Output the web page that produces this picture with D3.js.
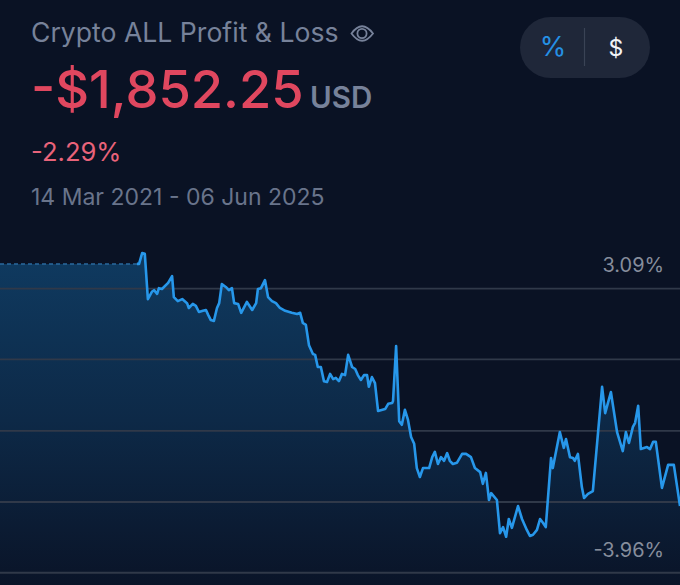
<!DOCTYPE html>
<html><head><meta charset="utf-8">
<script src="https://cdn.jsdelivr.net/npm/d3@7/dist/d3.min.js"></script>
<style>html,body{margin:0;padding:0;background:#0a1224;overflow:hidden}svg{display:block}text{font-family:Inter,sans-serif}</style>
</head><body>
<svg id="c" width="680" height="585"></svg>
<script>
const titleText = "Crypto ALL Profit & Loss";
const amountText = "-$1,852.25";
const unitText = "USD";
const pctText = "-2.29%";
const rangeText = "14 Mar 2021 - 06 Jun 2025";
const toggleLabels = ["%", "$"];
const maxLabel = "3.09%";
const minLabel = "-3.96%";
const totalDays = 1545;
const maxValue = 3.09, minValue = -3.96;
const gridValues = [2.21, 0.46, -1.31, -3.07, -4.82];
const flatDays = [0, 311];
const flatValue = 2.82;
const days = [311,316,323,329,336,345,350,357,361,368,382,391,395,404,414,425,429,438,445,452,461,468,473,479,486,493,498,504,513,520,527,532,541,548,561,573,582,586,593,602,609,618,627,636,648,663,675,682,688,695,702,711,716,722,729,736,743,750,757,763,770,777,784,791,800,807,813,820,827,834,838,845,852,859,875,882,891,893,900,907,913,920,927,934,941,947,954,961,975,982,988,995,1002,1009,1016,1022,1029,1038,1050,1059,1070,1079,1091,1097,1104,1111,1116,1129,1136,1143,1150,1156,1163,1177,1186,1197,1204,1211,1220,1227,1234,1240,1252,1256,1272,1281,1286,1295,1302,1306,1313,1322,1327,1336,1347,1368,1375,1388,1402,1415,1422,1429,1438,1443,1450,1456,1470,1477,1484,1490,1504,1518,1531,1545];
const values = [2.82,2.82,3.09,3.07,1.95,2.13,2.17,2.08,2.22,2.20,2.35,2.52,2.00,1.90,1.95,1.85,1.73,1.83,1.78,1.63,1.66,1.68,1.56,1.43,1.41,1.73,1.85,2.32,2.25,2.17,2.22,1.85,1.83,1.61,1.88,1.68,1.85,2.20,2.22,2.42,2.00,1.90,1.85,1.73,1.66,1.61,1.58,1.61,1.36,1.31,0.81,0.59,0.57,0.27,0.27,-0.08,-0.10,0.10,-0.03,0.00,-0.08,0.10,0.07,0.57,0.27,0.22,0.07,-0.05,0.07,0.07,-0.22,0.02,-0.13,-0.82,-0.77,-0.64,-0.62,-0.57,0.79,-1.07,-1.16,-0.79,-1.04,-1.46,-1.63,-2.23,-2.45,-2.23,-2.23,-1.96,-1.83,-2.13,-1.96,-2.05,-1.86,-2.05,-2.13,-2.10,-1.88,-1.88,-1.96,-2.23,-2.33,-2.62,-2.35,-3.02,-2.85,-3.02,-3.84,-3.69,-3.93,-3.49,-3.71,-3.17,-3.49,-3.76,-3.91,-3.88,-3.76,-3.49,-3.59,-3.69,-1.98,-2.23,-1.34,-1.73,-1.51,-1.96,-1.98,-2.05,-1.88,-2.70,-2.97,-2.87,-2.80,-0.22,-0.87,-0.35,-1.34,-1.81,-1.34,-1.61,-1.21,-1.11,-0.69,-1.76,-1.71,-1.76,-1.58,-1.58,-2.72,-2.15,-2.15,-3.17];

const W = 680, H = 585;
const svg = d3.select("#c");
const x = d3.scaleLinear().domain([0, totalDays]).range([0, W]);
const y = d3.scaleLinear().domain([minValue, maxValue]).range([538, 253]);
const pts = days.map((d, i) => ({d, v: values[i]}));
const allPts = [{d: flatDays[0], v: flatValue}].concat(pts);

svg.append("rect").attr("width", W).attr("height", H).attr("fill", "#0a1224");
const defs = svg.append("defs");
const g = defs.append("linearGradient").attr("id", "fade").attr("gradientUnits", "userSpaceOnUse")
  .attr("x1", 0).attr("x2", 0).attr("y1", 255).attr("y2", H);
g.append("stop").attr("offset", 0).attr("stop-color", "#0f3a60");
g.append("stop").attr("offset", 0.5).attr("stop-color", "#0d2947");
g.append("stop").attr("offset", 1).attr("stop-color", "#0a1428");

const area = d3.area().x(p => x(p.d)).y0(H).y1(p => y(p.v));
svg.append("path").datum(allPts).attr("d", area).attr("fill", "url(#fade)");

svg.selectAll("line.grid").data(gridValues).join("line").attr("class", "grid")
  .attr("x1", 0).attr("x2", W).attr("y1", d => y(d)).attr("y2", d => y(d))
  .attr("stroke", "#303949").attr("stroke-width", 1.8);

const line = d3.line().x(p => x(p.d)).y(p => y(p.v));
svg.append("path").datum(flatDays.map(d => ({d, v: flatValue}))).attr("d", line)
  .attr("fill", "none").attr("stroke", "#2a6a9e").attr("stroke-width", 1.5).attr("stroke-dasharray", "4 3");
svg.append("path").datum(pts).attr("d", line).attr("fill", "none")
  .attr("stroke", "#2797ea").attr("stroke-width", 2.6).attr("stroke-linejoin", "round");

const text = (s, px, py, size, fill, weight, anchor) => svg.append("text").text(s)
  .attr("x", px).attr("y", py).attr("font-size", size).attr("fill", fill)
  .attr("font-weight", weight || 400).attr("text-anchor", anchor || "start");

text(titleText, 31, 42, 26.6, "#77829a");
const eye = svg.append("g").attr("fill", "none").attr("stroke", "#77829a").attr("stroke-width", 1.8);
eye.append("path").attr("d", "M351.5 33.5 Q362 19 373 33.5 Q362 48 351.5 33.5 Z");
eye.append("circle").attr("cx", 362).attr("cy", 33.5).attr("r", 4.6);
text(amountText, 31, 108, 52.4, "#e0475f", 500);
text(unitText, 310, 108, 29.5, "#77829a", 600);
text(pctText, 31, 161, 25.6, "#e9637a");
text(rangeText, 31, 205, 23, "#69748b");

svg.append("rect").attr("x", 520).attr("y", 17).attr("width", 130).attr("height", 61).attr("rx", 30.5).attr("fill", "#1f2739");
svg.append("line").attr("x1", 584.5).attr("x2", 584.5).attr("y1", 28).attr("y2", 66).attr("stroke", "#3a4355").attr("stroke-width", 1.2);
text(toggleLabels[0], 553, 56, 27, "#2590e4", 400, "middle");
text(toggleLabels[1], 616, 56, 23, "#f2f4f7", 400, "middle");

text(maxLabel, 664, 272, 19.9, "#868d9c", 400, "end");
text(minLabel, 664, 557, 19.9, "#868d9c", 400, "end");
</script>
</body></html>
